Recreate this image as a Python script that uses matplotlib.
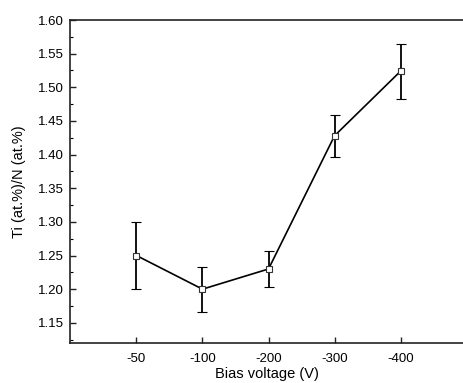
import matplotlib

matplotlib.use("Agg")
import matplotlib.pyplot as plt  # noqa: E402
from matplotlib.ticker import MultipleLocator  # noqa: E402

bias_labels = ["-50", "-100", "-200", "-300", "-400"]
ratio = [1.250, 1.200, 1.230, 1.428, 1.524]
err_low = [0.050, 0.034, 0.027, 0.031, 0.041]
err_high = [0.050, 0.033, 0.027, 0.031, 0.041]

plt.rcParams["font.family"] = ["Liberation Sans", "DejaVu Sans"]

fig = plt.figure(figsize=(4.64, 3.83), dpi=100)
ax = fig.add_axes([70.4 / 464, 40 / 383, 1 - 70.4 / 464, 323 / 383])

positions = list(range(1, len(bias_labels) + 1))
ax.errorbar(
    positions,
    ratio,
    yerr=[err_low, err_high],
    color="black",
    lw=1.2,
    elinewidth=1.3,
    capsize=3.5,
    capthick=1.3,
    marker="s",
    ms=5,
    mfc="white",
    mec="#333333",
    mew=0.8,
    zorder=3,
)

ax.set_xlim(0, 5.96)
ax.set_ylim(1.12, 1.60)
ax.set_xticks(positions)
ax.set_xticklabels(bias_labels)
ax.yaxis.set_major_locator(MultipleLocator(0.05))
ax.yaxis.set_minor_locator(MultipleLocator(0.025))
ax.yaxis.set_major_formatter(plt.FormatStrFormatter("%.2f"))

ax.spines["right"].set_visible(False)
for side in ("left", "bottom", "top"):
    ax.spines[side].set_linewidth(1.2)
    ax.spines[side].set_color("#222222")

ax.tick_params(axis="both", which="major", direction="in", length=4, width=1, labelsize=9.5, color="#222222")
ax.tick_params(axis="x", which="major", pad=7)
ax.tick_params(axis="y", which="major", pad=5)
ax.tick_params(axis="y", which="minor", direction="in", length=2.5, width=0.8)
ax.tick_params(top=False, right=False)

ax.set_xlabel("Bias voltage (V)", fontsize=10.5, labelpad=1.5)
ax.set_ylabel("Ti (at.%)/N (at.%)", fontsize=10.5, labelpad=8)

fig.savefig("out.png", dpi=100)
